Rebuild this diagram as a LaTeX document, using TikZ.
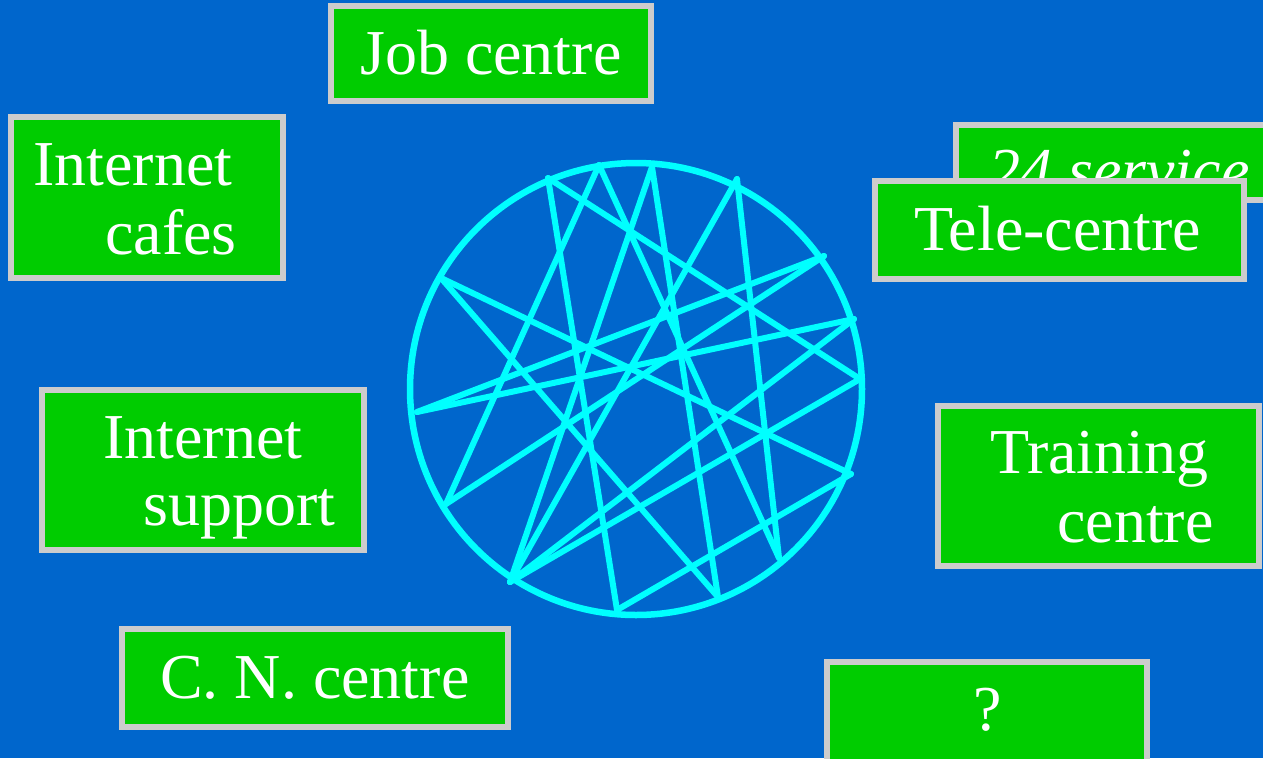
\documentclass[tikz,border=0pt]{standalone}
\usepackage{fontspec}
\setmainfont{Liberation Serif}
\definecolor{bgblue}{HTML}{0066CC}
\definecolor{boxgreen}{HTML}{00CC00}
\definecolor{boxgray}{HTML}{CCCCCC}
\definecolor{webcyan}{HTML}{00FFFF}
\begin{document}
\begin{tikzpicture}[x=1pt,y=-1pt,
  greenbox/.style={fill=boxgreen,draw=boxgray,line width=6pt},
  lbl/.style={anchor=base west,inner sep=0pt,text=white,font=\fontsize{64}{70}\selectfont},
  web/.style={draw=webcyan,line width=6pt,line cap=round},
  ring/.style={draw=webcyan,line width=6.5pt}]
\useasboundingbox (0,0) rectangle (1263,758);
\fill[bgblue] (0,0) rectangle (1263,758);
\clip (0,0) rectangle (1263,758);

% boxes
\draw[greenbox] (331,6) rectangle (651,101);
\node[lbl] (job) at (360,74) {Job centre};

\draw[greenbox] (11,117) rectangle (283,278);
\node[lbl] (inet1) at (33,185) {Internet};
\node[lbl] (cafe) at (105,254) {cafes};

\draw[greenbox] (42,390) rectangle (364,550);
\node[lbl] (inet2) at (103,458) {Internet};
\node[lbl] (supp) at (143,525) {support};

\draw[greenbox] (938,406) rectangle (1259,566);
\node[lbl] (train) at (990,473) {Training};
\node[lbl] (centre) at (1057,542) {centre};

\draw[greenbox] (122,629) rectangle (508,727);
\node[lbl] (cn) at (160,698) {C. N. centre};

\draw[greenbox] (956,125) rectangle (1290,200);
\node[lbl,font=\fontsize{64}{70}\selectfont\itshape] (serv) at (988,192) {24 service};

\draw[greenbox] (875,181) rectangle (1244,279);
\node[lbl] (tele) at (914,250) {Tele-centre};

\draw[greenbox] (827,662) rectangle (1147,770);
\node[lbl] (q) at (973,730) {?};

% web
\draw[ring] (636,389) circle (226);
\coordinate (A) at (548,178);
\coordinate (B) at (599,165);
\coordinate (C) at (652,167);
\coordinate (D) at (737,179);
\coordinate (E) at (824,256);
\coordinate (F) at (854,319);
\coordinate (G) at (860,379);
\coordinate (H) at (851,474);
\coordinate (I) at (779,558);
\coordinate (J) at (718,597);
\coordinate (K) at (617,610);
\coordinate (L) at (510,582);
\coordinate (M) at (446,504);
\coordinate (N) at (417,412);
\coordinate (O) at (441,278);
\draw[web] (A) -- (K);
\draw[web] (A) -- (G);
\draw[web] (B) -- (M);
\draw[web] (B) -- (I);
\draw[web] (C) -- (L);
\draw[web] (C) -- (J);
\draw[web] (D) -- (L);
\draw[web] (D) -- (I);
\draw[web] (E) -- (N);
\draw[web] (E) -- (M);
\draw[web] (F) -- (N);
\draw[web] (F) -- (L);
\draw[web] (G) -- (L);
\draw[web] (H) -- (O);
\draw[web] (H) -- (K);
\draw[web] (O) -- (J);
\end{tikzpicture}
\end{document}
